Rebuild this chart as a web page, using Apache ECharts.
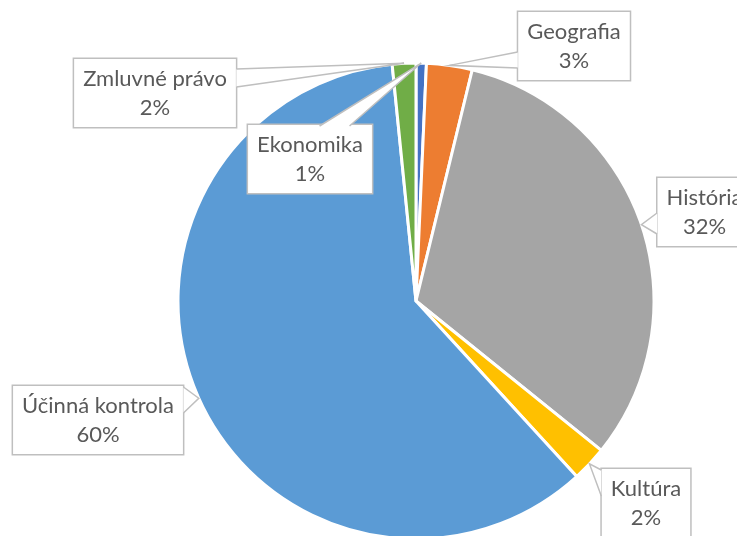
<!DOCTYPE html>
<html>
<head>
<meta charset="utf-8">
<script src="https://cdn.jsdelivr.net/npm/echarts@6/dist/echarts.min.js"></script>
<style>
  html, body { margin: 0; padding: 0; background: #fff; }
  #chart { width: 737px; height: 536px; }
</style>
</head>
<body>
<div id="chart"></div>
<script>
// data (share of the whole, in %)
var categories = ['Ekonomika', 'Geografia', 'História', 'Kultúra', 'Účinná kontrola', 'Zmluvné právo'];
var values = [0.7, 3.1, 32.0, 2.4, 60.2, 1.6];
var colors = ['#4472C4', '#ED7D31', '#A5A5A5', '#FFC000', '#5B9BD5', '#70AD47'];

var CX = 416, CY = 301, R = 238;

// callout boxes: centre x (or left), top, and the side the pointer leaves from
// (side offsets are measured from the box's top or left corner)
var boxes = [
  {cx: 310, top: 125, side: 'top', from: 73, to: 103},
  {cx: 574, top: 12, side: 'left', from: 40, to: 56},
  {left: 656, top: 178, side: 'left', from: 35, to: 56},
  {cx: 646, top: 469, side: 'left', from: 1, to: 27},
  {cx: 98, top: 386, side: 'right', from: 1, to: 27},
  {cx: 155, top: 59, side: 'right', from: 10, to: 28}
];

var total = values.reduce(function (a, b) { return a + b; }, 0);
var tips = [];
var acc = 0;
values.forEach(function (v) {
  var mid = (acc + v / 2) / total * 2 * Math.PI;
  tips.push([CX + R * Math.sin(mid), CY - R * Math.cos(mid)]);
  acc += v;
});

var chart = echarts.init(document.getElementById('chart'));

var pieData = categories.map(function (c, i) {
  return {name: c, value: values[i], itemStyle: {color: colors[i]}};
});

chart.setOption({
  animation: false,
  series: [{
    type: 'pie',
    center: [CX, CY],
    radius: R,
    startAngle: 90,
    clockwise: true,
    avoidLabelOverlap: false,
    itemStyle: {borderColor: '#fff', borderWidth: 3},
    label: {
      show: true,
      position: 'outside',
      formatter: function (p) {
        return p.name + '\n' + Math.round(p.percent) + '%';
      },
      fontFamily: 'Lato',
      fontSize: 22,
      lineHeight: 29,
      color: '#595959',
      backgroundColor: '#fff',
      borderColor: '#BFBFBF',
      borderWidth: 1.5,
      padding: [5, 9]
    },
    labelLine: {
      show: true,
      length: 10,
      length2: 10,
      lineStyle: {color: '#BFBFBF', width: 1.5}
    },
    labelLayout: function (params) {
      var b = boxes[params.dataIndex];
      var w = params.labelRect.width, h = params.labelRect.height;
      var left = b.left != null ? b.left : b.cx - w / 2;
      var top = b.top;
      var a, c;
      if (b.side === 'top') {
        a = [left + b.from, top + 1]; c = [left + b.to, top + 1];
      } else if (b.side === 'left') {
        a = [left + 1, top + b.from]; c = [left + 1, top + b.to];
      } else {
        a = [left + w - 1, top + b.from]; c = [left + w - 1, top + b.to];
      }
      return {
        x: left + w / 2, y: top, align: 'center', verticalAlign: 'top',
        labelLinePoints: [a, tips[params.dataIndex], c]
      };
    },
    data: pieData
  }]
});

// turn the leader lines into filled callout pointers that sit over the box edge
chart.getZr().storage.getDisplayList(true).forEach(function (el) {
  if (el.type === 'polyline') {
    el.setStyle('fill', '#fff');
    el.z2 = 1000;
    el.markRedraw();
  }
});
chart.getZr().refreshImmediately();
</script>
</body>
</html>
